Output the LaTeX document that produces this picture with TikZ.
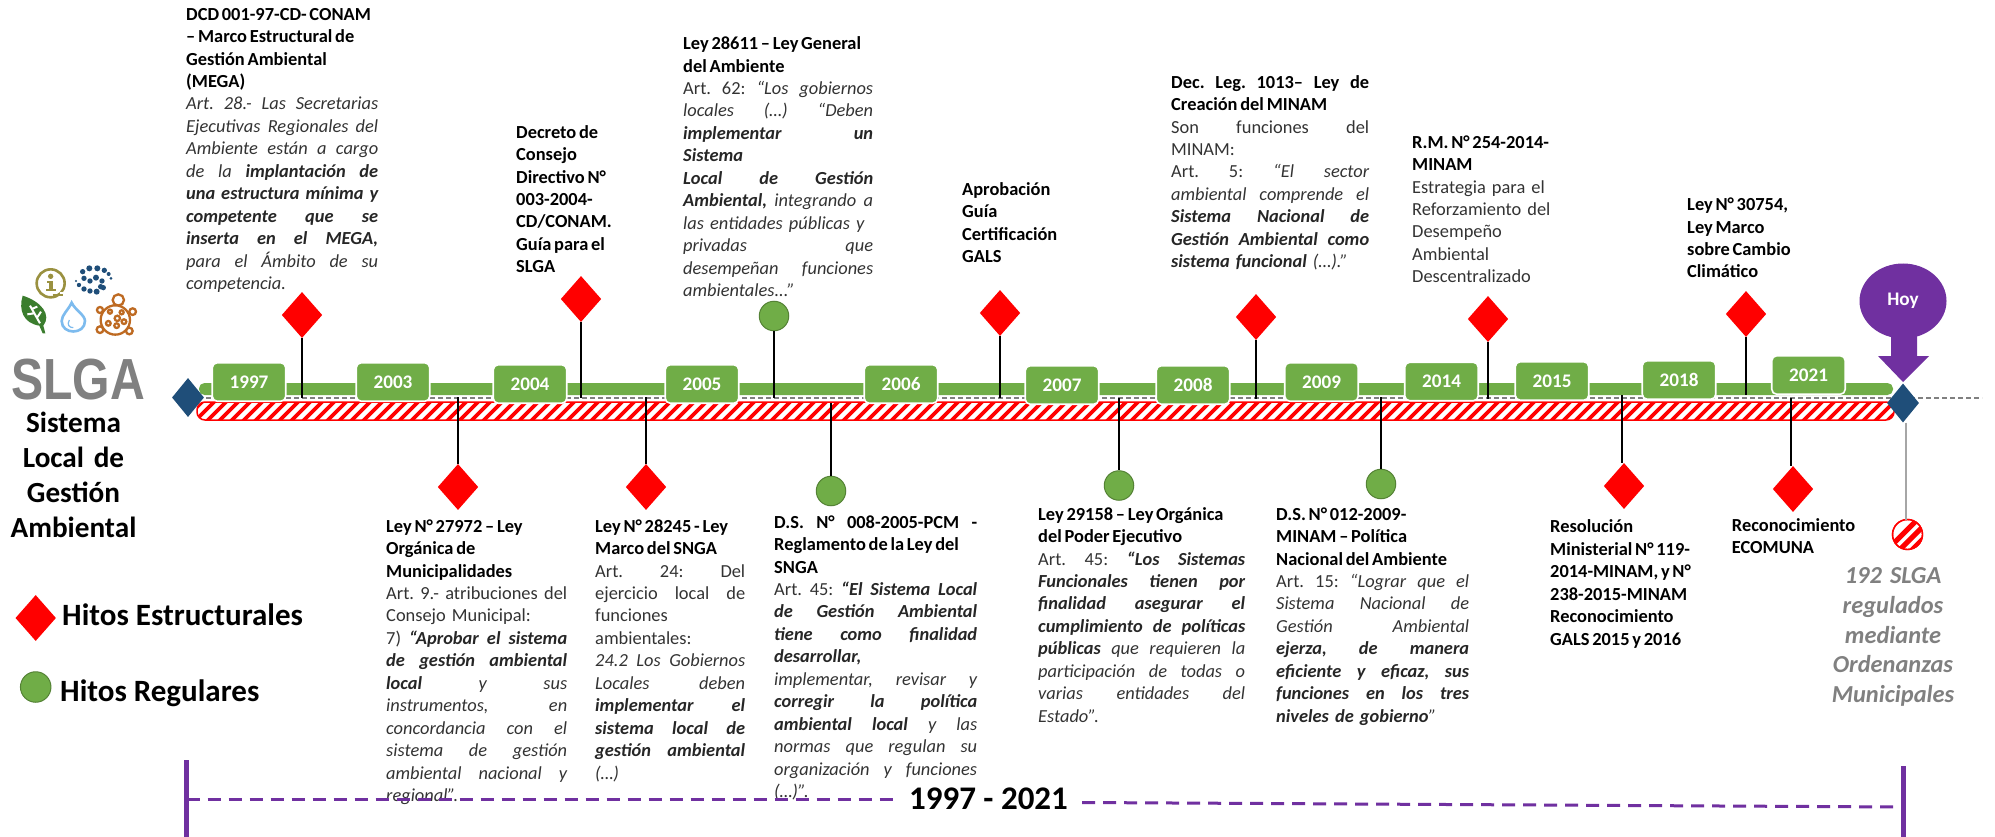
\documentclass[tikz,border=0pt]{standalone}
\usepackage{fontspec}
\usepackage{graphicx}
\usetikzlibrary{shapes.geometric}
\setmainfont{Carlito}
\newfontfamily\arialf{Liberation Sans}
\definecolor{gbox}{HTML}{70AD47}
\definecolor{gedge}{HTML}{548235}
\definecolor{bluedia}{HTML}{1F4E79}
\definecolor{purp}{HTML}{7030A0}
\definecolor{bodyc}{HTML}{333333}
\definecolor{bodyb}{HTML}{262626}
\definecolor{iconol}{HTML}{9A9140}
\definecolor{iconbl}{HTML}{7DBBEE}
\definecolor{iconbr}{HTML}{BE6A22}
\definecolor{icongr}{HTML}{3B7D2E}
\newcommand\strutx{\vrule height .62\baselineskip depth .27\baselineskip width 0pt\relax}
\newcommand\jl[1]{\hbox to \hsize{\strutx\frenchspacing\spaceskip=.226em plus 1fil minus .04em\relax #1}\par}
\newcommand\rl[1]{\hbox{\strutx\frenchspacing #1}\par}
\newcommand\cl[1]{\hbox to \hsize{\strutx\hfil #1\hfil}\par}
\newcommand\ttl[1]{{\bfseries\color{black}\spaceskip=.15em\relax #1}}
\newcommand\ttj[1]{{\bfseries\color{black}#1}}
\newcommand\bi[1]{{\bfseries\itshape\color{bodyb}#1}}
\newcommand\itx[1]{{\itshape #1}}
\tikzset{
  txt/.style={anchor=north west,inner sep=0pt,text=bodyc,font=\fontsize{18.4}{22.45}\selectfont},
  yearbox/.style={draw=white,line width=1.6pt,fill=gbox,rounded corners=5pt,minimum width=73.5pt,minimum height=38.5pt,inner sep=0pt,text=white,font=\fontsize{19.2}{22}\selectfont\bfseries},
  redd/.style={diamond,fill=red,inner sep=0pt,minimum width=40.5pt,minimum height=46pt,aspect=.88},
  bluedd/.style={diamond,fill=bluedia,inner sep=0pt,minimum width=32pt,minimum height=39pt,aspect=.82},
  greenc/.style={ellipse,fill=gbox,draw=gedge,line width=1pt,inner sep=0pt,minimum width=29.5pt,minimum height=29.5pt},
  stem/.style={draw=black,line width=1.6pt},
  purpd/.style={draw=purp,line width=3pt,dash pattern=on 13pt off 8pt},
  purpv/.style={draw=purp,line width=5pt},
  hito/.style={anchor=base west,inner sep=0pt,text=black,font=\fontsize{31}{35}\selectfont\bfseries},
}
\begin{document}
\begin{tikzpicture}[x=1pt,y=-1pt]
\useasboundingbox (0,0) rectangle (1995,837);
\fill[white] (0,0) rectangle (1995,837);

% timeline base
\coordinate (dashL) at (190,398);
\coordinate (dashR) at (1982,398);
\draw[draw=gray,line width=1.1pt,dash pattern=on 5pt off 3pt] (dashL) -- (dashR);
\fill[gbox,rounded corners=5.5pt] (199,383) rectangle (1893,395);
% hatched bar
\fill[white] (197,402) [rounded corners=8pt] rectangle (1894,420);
\begin{scope}
\clip[rounded corners=8pt] (197,402) rectangle (1894,420);
\foreach \i in {0,...,143}{
  \draw[red,line width=3.6pt] ({180+12*\i},424) -- ({180+12*\i+26},398);
}
\end{scope}
\draw[red,line width=1.5pt,rounded corners=8pt] (197,402) rectangle (1894,420);

% year boxes
\node[yearbox] (y1997) at (249,382) {1997};
\node[yearbox] (y2003) at (393,382) {2003};
\node[yearbox] (y2004) at (530,384) {2004};
\node[yearbox] (y2005) at (702,384) {2005};
\node[yearbox] (y2006) at (901,384) {2006};
\node[yearbox] (y2007) at (1062,385) {2007};
\node[yearbox] (y2008) at (1193,385) {2008};
\node[yearbox] (y2009) at (1321.5,382) {2009};
\node[yearbox] (y2014) at (1441.5,381.5) {2014};
\node[yearbox] (y2015) at (1552,381) {2015};
\node[yearbox] (y2018) at (1679,380) {2018};
\node[yearbox] (y2021) at (1808.5,375) {2021};

% end diamonds
\node[bluedd] (startd) at (188,397.5) {};
\coordinate (hatchtop) at (1906,520);

% milestones top
\node[redd] (m1) at (302,315) {};
\coordinate (m1b) at (302,398);
\draw[stem] (m1.south) -- (m1b);
\node[redd] (m2) at (581,299) {};
\coordinate (m2b) at (581,398);
\draw[stem] (m2.south) -- (m2b);
\node[greenc] (m3) at (774,316) {};
\coordinate (m3b) at (774,398);
\draw[stem] (m3.south) -- (m3b);
\node[redd] (m4) at (1000,313) {};
\coordinate (m4b) at (1000,398);
\draw[stem] (m4.south) -- (m4b);
\node[redd] (m5) at (1256,317) {};
\coordinate (m5b) at (1256,399);
\draw[stem] (m5.south) -- (m5b);
\node[redd] (m6) at (1488,319) {};
\coordinate (m6b) at (1488,399);
\draw[stem] (m6.south) -- (m6b);
\node[redd] (m7) at (1746,314) {};
\coordinate (m7b) at (1746,395);
\draw[stem] (m7.south) -- (m7b);

% milestones bottom
\node[redd] (b1) at (458,487) {};
\coordinate (b1t) at (458,397);
\draw[stem] (b1t) -- (b1.north);
\node[redd] (b2) at (646,487) {};
\coordinate (b2t) at (646,397);
\draw[stem] (b2t) -- (b2.north);
\node[greenc] (b3) at (831,491) {};
\coordinate (b3t) at (831,403);
\draw[stem] (b3t) -- (b3.north);
\node[greenc] (b4) at (1119,485.5) {};
\coordinate (b4t) at (1119,398);
\draw[stem] (b4t) -- (b4.north);
\node[greenc] (b5) at (1381,484) {};
\coordinate (b5t) at (1381,397);
\draw[stem] (b5t) -- (b5.north);
\node[redd] (b6) at (1624,486) {};
\coordinate (b6t) at (1622,395);
\draw[stem] (b6t) -- (b6t |- b6.north);
\node[redd] (b7) at (1793,489) {};
\coordinate (b7t) at (1791,398);
\draw[stem] (b7t) -- (b7t |- b7.north);

% Hoy
\node[bluedd] (endd) at (1903,403) {};
\node[circle,fill=white,draw=red,line width=1.4pt,minimum size=30pt,inner sep=0pt] (endc) at (1907.5,534.5) {};
\begin{scope}
\clip (1907.5,534.5) circle (14.6);
\foreach \i in {0,...,4}{
  \draw[red,line width=5pt] ({1885+12.5*\i},552) -- ({1885+12.5*\i+34},518);
}
\end{scope}
\draw[red,line width=1.4pt] (1907.5,534.5) circle (15);
\draw[draw=black!35,line width=2pt] (endd.south -| hatchtop) -- (hatchtop);
\node[ellipse,fill=purp,inner sep=0pt,minimum width=87pt,minimum height=75pt,text=white,font=\fontsize{19.2}{22}\selectfont\bfseries] (hoy) at (1903,301) {Hoy};
\fill[purp] (1891,335) -- (1917,335) -- (1917,356) -- (1929,356) -- (1903,382) -- (1878,356) -- (1891,356) -- cycle;

% text top
\node[txt,text width=192pt] (t1) at (186,6) {%
\rl{\ttl{DCD 001-97-CD- CONAM}}
\rl{\ttl{– Marco Estructural de}}
\rl{\ttl{Gestión Ambiental}}
\rl{\ttl{(MEGA)}}
\jl{\itx{Art. 28.- Las Secretarias}}
\jl{\itx{Ejecutivas Regionales del}}
\jl{\itx{Ambiente están a cargo}}
\jl{\itx{de la} \bi{implantación de}}
\jl{\bi{una estructura mínima y}}
\jl{\bi{competente que se}}
\jl{\bi{inserta en el MEGA,}}
\jl{\itx{para el Ámbito de su}}
\rl{\itx{competencia.}}};
\node[txt,text width=120pt] (t2) at (516,124) {%
\rl{\ttl{Decreto de}}
\rl{\ttl{Consejo}}
\rl{\ttl{Directivo N°}}
\rl{\ttl{003-2004-}}
\rl{\ttl{CD/CONAM.}}
\rl{\ttl{Guía para el}}
\rl{\ttl{SLGA}}};
\node[txt,text width=190pt] (t3) at (683,35.5) {%
\rl{\ttl{Ley 28611 – Ley General}}
\rl{\ttl{del Ambiente}}
\jl{Art. 62: \itx{“Los gobiernos}}
\jl{\itx{locales (…) “Deben}}
\jl{\bi{implementar un}}
\rl{\bi{Sistema}}
\jl{\bi{Local de Gestión}}
\jl{\bi{Ambiental,} \itx{integrando a}}
\rl{\itx{las entidades públicas y}}
\jl{\itx{privadas que}}
\jl{\itx{desempeñan funciones}}
\rl{\itx{ambientales...”}}};
\node[txt,text width=130pt] (t4) at (962,181) {%
\rl{\ttl{Aprobación}}
\rl{\ttl{Guía}}
\rl{\ttl{Certificación}}
\rl{\ttl{GALS}}};
\node[txt,text width=198pt] (t5) at (1171,74) {%
\jl{\ttj{Dec. Leg. 1013– Ley de}}
\rl{\ttl{Creación del MINAM}}
\jl{Son funciones del}
\rl{MINAM:}
\jl{Art. 5: \itx{“El sector}}
\jl{\itx{ambiental comprende el}}
\jl{\bi{Sistema Nacional de}}
\jl{\bi{Gestión Ambiental como}}
\rl{\bi{sistema funcional} \itx{(…).”}}};
\node[txt,text width=160pt] (t6) at (1412,134) {%
\rl{\ttl{R.M. N° 254-2014-}}
\rl{\ttl{MINAM}}
\rl{Estrategia para el}
\rl{Reforzamiento del}
\rl{Desempeño}
\rl{Ambiental}
\rl{Descentralizado}};
\node[txt,text width=130pt] (t7) at (1687,196.5) {%
\rl{\ttl{Ley N° 30754,}}
\rl{\ttl{Ley Marco}}
\rl{\ttl{sobre Cambio}}
\rl{\ttl{Climático}}};

% text bottom
\node[txt,text width=181pt] (t8) at (386,518) {%
\rl{\ttl{Ley N° 27972 – Ley}}
\rl{\ttl{Orgánica de}}
\rl{\ttl{Municipalidades}}
\jl{Art. 9.- atribuciones del}
\rl{Consejo Municipal:}
\jl{7) \bi{“Aprobar el sistema}}
\jl{\bi{de gestión ambiental}}
\jl{\bi{local} \itx{y sus}}
\jl{\itx{instrumentos, en}}
\jl{\itx{concordancia con el}}
\jl{\itx{sistema de gestión}}
\jl{\itx{ambiental nacional y}}
\rl{\itx{regional”.}}};
\node[txt,text width=150pt] (t9) at (595,518) {%
\rl{\ttl{Ley N° 28245 - Ley}}
\rl{\ttl{Marco del SNGA}}
\jl{Art. 24: Del}
\jl{ejercicio local de}
\rl{funciones}
\rl{ambientales:}
\jl{\itx{24.2 Los Gobiernos}}
\jl{\itx{Locales deben}}
\jl{\bi{implementar el}}
\jl{\bi{sistema local de}}
\jl{\bi{gestión ambiental}}
\rl{\itx{(…)}}};
\node[txt,text width=203pt] (t10) at (774,514) {%
\jl{\ttj{D.S. N° 008-2005-PCM -}}
\rl{\ttl{Reglamento de la Ley del}}
\rl{\ttl{SNGA}}
\jl{Art. 45: \bi{“El Sistema Local}}
\jl{\bi{de Gestión Ambiental}}
\jl{\bi{tiene como finalidad}}
\rl{\bi{desarrollar,}}
\jl{\itx{implementar, revisar y}}
\jl{\bi{corregir la política}}
\jl{\bi{ambiental local} \itx{y las}}
\jl{\itx{normas que regulan su}}
\jl{\itx{organización y funciones}}
\rl{\itx{(…)”.}}};
\node[txt,text width=207pt] (t11) at (1038,506) {%
\rl{\ttl{Ley 29158 – Ley Orgánica}}
\rl{\ttl{del Poder Ejecutivo}}
\jl{Art. 45: \bi{“Los Sistemas}}
\jl{\bi{Funcionales tienen por}}
\jl{\bi{finalidad asegurar el}}
\jl{\bi{cumplimiento de políticas}}
\jl{\bi{públicas} \itx{que requieren la}}
\jl{\itx{participación de todas o}}
\jl{\itx{varias entidades del}}
\rl{\itx{Estado”.}}};
\node[txt,text width=193pt] (t12) at (1276,506) {%
\rl{\ttl{D.S. N° 012-2009-}}
\rl{\ttl{MINAM – Política}}
\rl{\ttl{Nacional del Ambiente}}
\jl{Art. 15: \itx{“Lograr que el}}
\jl{\itx{Sistema Nacional de}}
\jl{\itx{Gestión Ambiental}}
\jl{\bi{ejerza, de manera}}
\jl{\bi{eficiente y eficaz, sus}}
\jl{\bi{funciones en los tres}}
\rl{\bi{niveles de gobierno}\itx{”}}};
\node[txt,text width=170pt] (t13) at (1550,518.7) {%
\rl{\ttl{Resolución}}
\rl{\ttl{Ministerial N° 119-}}
\rl{\ttl{2014-MINAM, y N°}}
\rl{\ttl{238-2015-MINAM}}
\rl{\ttl{Reconocimiento}}
\rl{\ttl{GALS 2015 y 2016}}};
\node[txt,text width=140pt] (t14) at (1731.7,517) {%
\rl{\ttl{Reconocimiento}}
\rl{\ttl{ECOMUNA}}};
\node[anchor=north,inner sep=0pt,text width=170pt,text=gray,font=\fontsize{24.4}{29.9}\selectfont\bfseries\itshape] (t15) at (1893,564.5) {%
\cl{192 SLGA}
\cl{regulados}
\cl{mediante}
\cl{Ordenanzas}
\cl{Municipales}};

% left block
\node[inner sep=0pt,anchor=base,text=gray,font=\arialf\bfseries\fontsize{58}{60}\selectfont] (slga) at (78,399) {\scalebox{.83}[1]{SLGA}};
\node[anchor=north,inner sep=0pt,text width=150pt,text=black,font=\fontsize{29.2}{35}\selectfont\bfseries] (sistema) at (73.5,410.3) {%
\cl{Sistema}
\cl{Local de}
\cl{Gestión}
\cl{Ambiental}};
\node[redd] (legd) at (35.7,618) {};
\node[hito] (legdt) at (62,625.7) {Hitos Estructurales};
\node[greenc,minimum width=30.5pt,minimum height=30.5pt] (legc) at (35.7,687) {};
\node[hito] (legct) at (60,701) {Hitos Regulares};

% icons
\begin{scope}[shift={(10,255)},x=.3333pt,y=-.3333pt]
  % info
  \draw[draw=iconol,line width=2.6pt] (122,85) circle (42);
  \fill[white] (150,112) -- (175,112) -- (175,130) -- (150,130) -- cycle;
  \draw[draw=iconol,line width=2.4pt] (128,120) -- (160,120);
  \fill[iconol] (122,64) circle (8);
  \fill[iconol] (112,78) rectangle (130,84);
  \fill[iconol] (117,78) rectangle (129,106);
  \fill[iconol] (108,102) rectangle (138,108);
  % spiral
  \foreach \a/\b/\r in {218/50/8,238/40/9,262/40/9,283/46/8,296/57/6,303/70/4.5,222/70/8,240/78/8,258/68/9,276/78/8,272/95/8,198/78/3.5,207/90/6.5,222/102/8,240/108/8,260/110/9,280/98/8}{
    \fill[bluedia] (\a,\b) circle (\r);
  }
  % leaf
  \fill[icongr] (98,235) -- (88,212) .. controls (40,205) and (25,165) .. (38,122) .. controls (95,140) and (125,180) .. (100,212) -- (106,235) -- cycle;
  \draw[white,line width=2pt] (60,152) -- (90,205) (72,175) -- (52,178) (65,162) -- (82,155) (80,190) -- (93,170);
  % drop
  \draw[draw=iconbl,line width=2.6pt] (185,143) .. controls (175,165) and (155,180) .. (155,198) .. controls (155,240) and (225,240) .. (225,198) .. controls (225,180) and (195,165) .. (185,143) -- cycle;
  \draw[draw=iconbl,line width=1.2pt] (178,195) .. controls (170,210) and (178,218) .. (190,218);
  % turtle
  \begin{scope}[draw=iconbr,line width=2.3pt]
    \draw (325,135) circle (17);
    \draw (270,165) circle (9);
    \draw (368,170) circle (10);
    \draw (270,224) circle (10);
    \draw (358,228) circle (10);
    \fill[white] (316,195) circle (44);
    \draw (316,195) circle (44);
    \draw (322,190) circle (8);
    \draw (300,170) circle (6);
    \draw (335,172) circle (6);
    \draw (295,205) circle (7);
    \draw (320,212) circle (7);
    \draw (342,200) circle (7);
  \end{scope}
\end{scope}

% span
\node[inner sep=0pt,anchor=base,text=black,font=\fontsize{33}{36}\selectfont\bfseries] (span) at (988.5,809) {1997 - 2021};
\coordinate (sl) at (186.5,799);
\coordinate (sr) at (1903,807);
\coordinate (sl2) at (893,799);
\coordinate (sr2) at (1082,802.5);
\draw[purpd] (sl) -- (sl2);
\draw[purpd] (sr2) -- (sr);
\coordinate (vl1) at (186.5,760); \coordinate (vl2) at (186.5,837);
\coordinate (vr1) at (1903,766); \coordinate (vr2) at (1903,837);
\draw[purpv] (vl1) -- (vl2);
\draw[purpv] (vr1) -- (vr2);
\end{tikzpicture}
\end{document}
